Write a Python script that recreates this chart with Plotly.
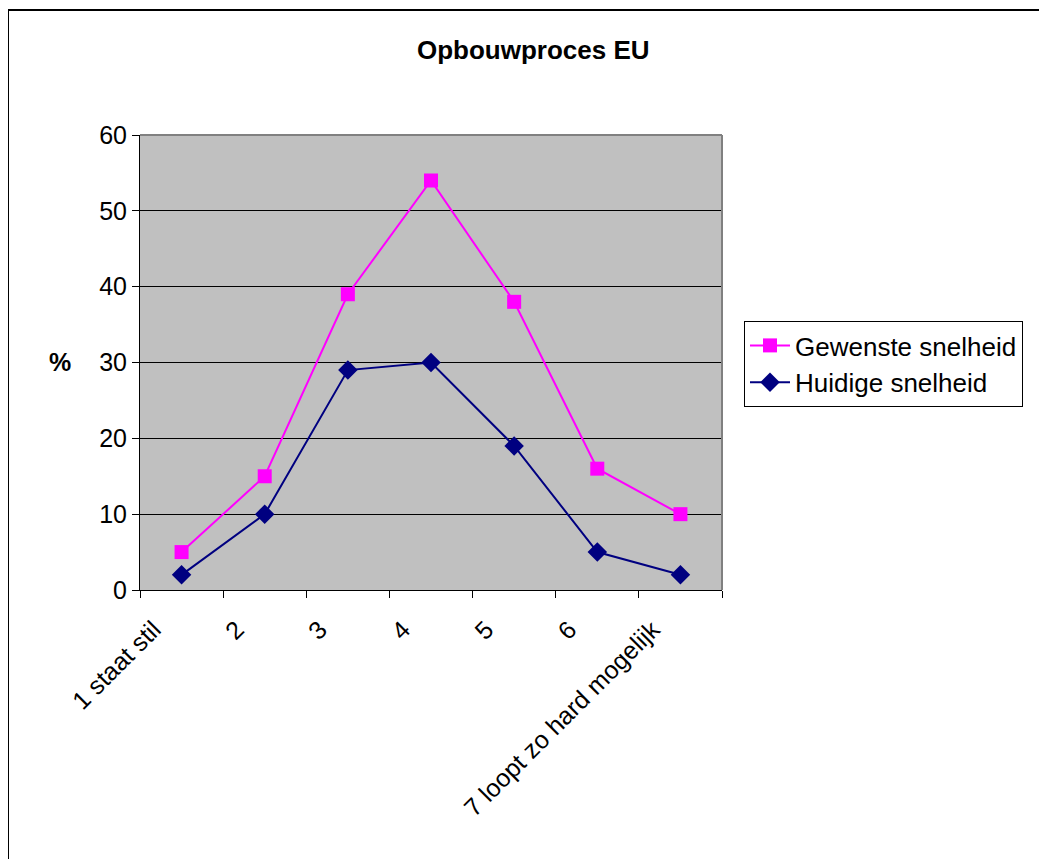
import plotly.graph_objects as go

# Data
categories = ["1 staat stil", "2", "3", "4", "5", "6", "7 loopt zo hard mogelijk"]
gewenste = [5, 15, 39, 54, 38, 16, 10]
huidige = [2, 10, 29, 30, 19, 5, 2]

# page body adds an 8px margin, so work in reference px minus 8
OFF = 8
W, H = 1047 - OFF, 859 - OFF
L, R, T, B = 140 - OFF, 722 - OFF, 135 - OFF, 590 - OFF
pw, ph = R - L, B - T

def px(x):
    return (x - OFF - L) / pw

def py(y):
    return (B - (y - OFF)) / ph

font = "Liberation Sans, Arial, sans-serif"

fig = go.Figure()
fig.add_trace(go.Scatter(
    x=categories, y=gewenste, name="Gewenste snelheid",
    mode="lines+markers",
    line=dict(color="#FF00FF", width=2),
    marker=dict(symbol="square", size=14, color="#FF00FF"),
))
fig.add_trace(go.Scatter(
    x=categories, y=huidige, name="Huidige snelheid",
    mode="lines+markers",
    line=dict(color="#000080", width=2),
    marker=dict(symbol="diamond", size=15, color="#000080"),
))

fig.update_layout(
    width=W, height=H,
    margin=dict(l=L, r=W - R, t=T, b=H - B),
    paper_bgcolor="white",
    plot_bgcolor="#C0C0C0",
    font=dict(family=font, size=25, color="black"),
    showlegend=True,
    legend=dict(
        x=px(744), y=py(321), xanchor="left", yanchor="top",
        bordercolor="black", borderwidth=1, bgcolor="white",
        font=dict(size=26), itemwidth=40, tracegroupgap=0,
    ),
)

fig.update_xaxes(
    type="category", showgrid=False, showline=True, linecolor="black", linewidth=1,
    ticks="outside", tickson="boundaries", ticklen=7, tickcolor="black",
    tickangle=-45, tickfont=dict(size=25), range=[-0.5, 6.5],
    ticklabelshift=-28, ticklabelstandoff=14,
)
fig.update_yaxes(
    range=[0, 60], dtick=10, showgrid=True, gridcolor="black", gridwidth=1,
    showline=True, linecolor="black", linewidth=1, zeroline=False,
    ticks="outside", ticklen=7, tickcolor="black", tickfont=dict(size=25),
)

# title
fig.add_annotation(text="<b>Opbouwproces EU</b>", x=px(533), y=py(50),
                   xref="paper", yref="paper", showarrow=False,
                   xanchor="center", yanchor="middle", font=dict(size=26))

# "%" axis label
fig.add_annotation(text="<b>%</b>", x=px(47), y=py(362), xref="paper", yref="paper",
                   showarrow=False, font=dict(size=25))

# gray top/right borders of the plot area
fig.add_shape(type="line", xref="paper", yref="paper", x0=0, x1=1, y0=1, y1=1,
              line=dict(color="#808080", width=2))
fig.add_shape(type="line", xref="paper", yref="paper", x0=1, x1=1, y0=0, y1=1,
              line=dict(color="#808080", width=2))

# outer chart frame
fig.add_shape(type="rect", xref="paper", yref="paper",
              x0=px(8), x1=px(1060), y0=py(880), y1=py(10),
              line=dict(color="black", width=2))

fig.write_html("out.html")
